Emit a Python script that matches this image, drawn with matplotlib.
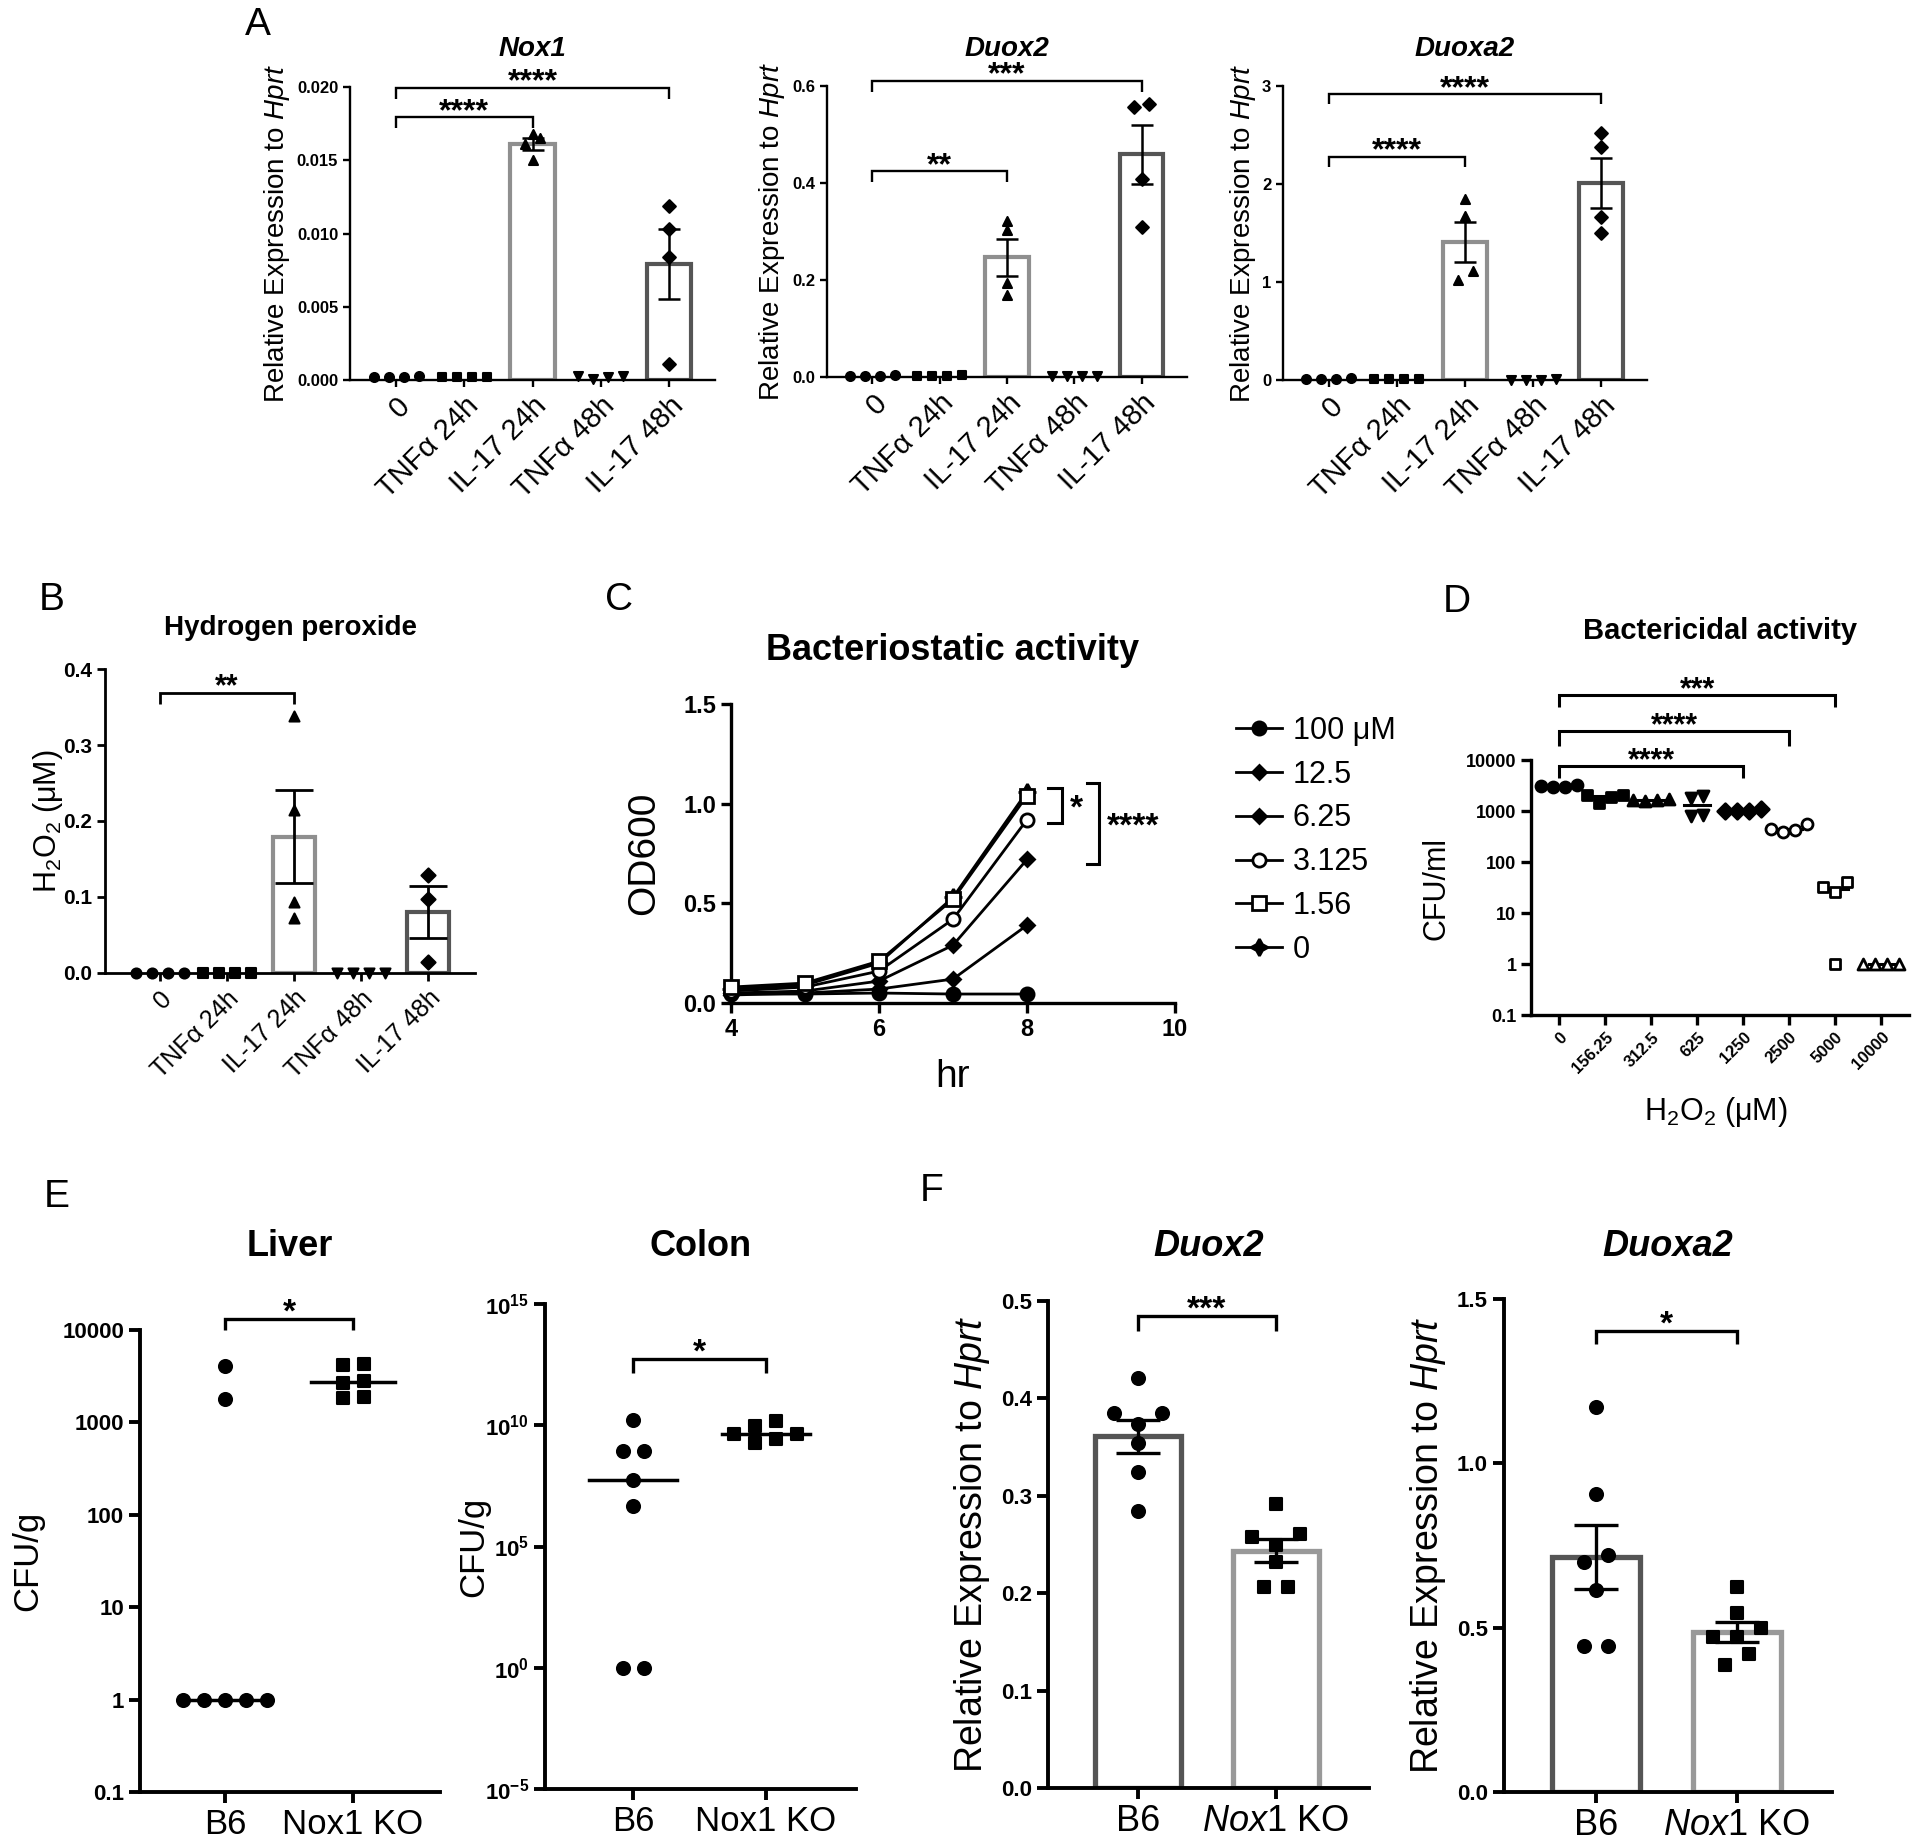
import numpy as np
import matplotlib
matplotlib.use('Agg')
import matplotlib.pyplot as plt
from matplotlib.ticker import NullLocator

# ---------------- data ----------------
# A: relative expression to Hprt, 4 replicates per condition
a_groups = ['0', 'TNFα 24h', 'IL-17 24h', 'TNFα 48h', 'IL-17 48h']
nox1 = [[0.0002, 0.0003, 0.0002, 0.0002],
        [0.0002, 0.0002, 0.0002, 0.0002],
        [0.0165, 0.0168, 0.0161, 0.0150],
        [0.0001, 0.0003, 0.0002, 0.0003],
        [0.0119, 0.0103, 0.0084, 0.0011]]
duox2 = [[0.002, 0.004, 0.002, 0.002],
         [0.003, 0.004, 0.003, 0.002],
         [0.322, 0.303, 0.193, 0.169],
         [0.002, 0.003, 0.002, 0.002],
         [0.556, 0.562, 0.408, 0.310]]
duoxa2 = [[0.01, 0.02, 0.01, 0.01],
          [0.01, 0.01, 0.01, 0.01],
          [1.85, 1.67, 1.11, 1.02],
          [0.005, 0.006, 0.004, 0.005],
          [2.52, 2.38, 1.66, 1.50]]

# B: hydrogen peroxide (uM)
h2o2 = [[0, 0, 0, 0],
        [0, 0, 0, 0],
        [0.338, 0.215, 0.093, 0.072],
        [0, 0, 0, 0],
        [0.129, 0.097, 0.0145]]

# C: growth curves, OD600 per hour
hours = [4, 5, 6, 7, 8]
c_labels = ['100 μM', '12.5', '6.25', '3.125', '1.56', '0']
od_100 = [0.045, 0.045, 0.05, 0.045, 0.045]
od_12_5 = [0.04, 0.05, 0.07, 0.12, 0.39]
od_6_25 = [0.05, 0.06, 0.11, 0.29, 0.72]
od_3_125 = [0.06, 0.08, 0.16, 0.42, 0.92]
od_1_56 = [0.08, 0.10, 0.21, 0.52, 1.04]
od_0 = [0.07, 0.09, 0.20, 0.53, 1.06]

# D: CFU/ml after H2O2
d_doses = ['0', '156.25', '312.5', '625', '1250', '2500', '5000', '10000']
cfu_ml = [[2900, 3200, 3000, 3100],
          [1450, 2100, 1900, 2050],
          [1600, 1750, 1650, 1650],
          [1800, 800, 850, 2000],
          [1000, 1100, 1000, 1000],
          [380, 560, 420, 450],
          [40, 26, 33, 1],
          [1, 1, 1, 1]]

# E: CFU/g in tissue
liver_b6 = [4100, 1800, 1, 1, 1, 1, 1]
liver_ko = [4300, 4200, 2800, 2700, 1900, 1850]
colon_b6 = [1.7e10, 9e8, 9e8, 5.6e7, 4.6e6, 1, 1]
colon_ko = [2.7e9, 8.9e9, 4.2e9, 1.9e9, 1.5e10, 4.2e9]

# F: colon expression, B6 vs Nox1 KO
f_duox2_b6 = [0.421, 0.385, 0.385, 0.374, 0.354, 0.324, 0.284]
f_duox2_ko = [0.292, 0.258, 0.261, 0.250, 0.232, 0.206, 0.206]
f_duoxa2_b6 = [1.171, 0.907, 0.720, 0.700, 0.615, 0.443, 0.443]
f_duoxa2_ko = [0.624, 0.546, 0.498, 0.471, 0.471, 0.419, 0.386]

# ---------------- style ----------------
plt.rcParams['font.family'] = ['Liberation Sans', 'DejaVu Sans']
plt.rcParams['mathtext.fontset'] = 'custom'
plt.rcParams['mathtext.rm'] = 'Liberation Sans'
plt.rcParams['mathtext.it'] = 'Liberation Sans:italic'
plt.rcParams['mathtext.bf'] = 'Liberation Sans:bold'
NARROW = ['Liberation Sans Narrow', 'Liberation Sans']
DARK, LIGHT = '#555555', '#8f8f8f'

W, H = 1920, 1847
fig = plt.figure(figsize=(W / 100, H / 100), dpi=100)


def axes_px(x0, y0, x1, y1, lw=2.0, tick=6):
    ax = fig.add_axes([x0 / W, 1 - y1 / H, (x1 - x0) / W, (y1 - y0) / H])
    ax.patch.set_alpha(0)
    ax.spines[['top', 'right']].set_visible(False)
    ax.spines[['left', 'bottom']].set_linewidth(lw)
    ax.tick_params(width=lw, length=tick, color='k')
    return ax


def ftext(x, y, s, **kw):
    kw.setdefault('ha', 'center')
    kw.setdefault('va', 'center')
    fig.text(x / W, 1 - y / H, s, **kw)


def row_offsets(ax, vals, d, gap, log=False):
    # points that overlap vertically are spread side by side (GraphPad style)
    pos = ax.get_position()
    hpx, wpx = pos.height * H, pos.width * W
    lo, hi = ax.get_ylim()
    v = np.asarray(vals, float)
    if log:
        ypx = (np.log10(v) - np.log10(lo)) / (np.log10(hi) - np.log10(lo)) * hpx
    else:
        ypx = (v - lo) / (hi - lo) * hpx
    order = np.argsort(ypx, kind='stable')
    offs = np.zeros(len(v))
    i = 0
    while i < len(order):
        j = i
        while j + 1 < len(order) and ypx[order[j + 1]] - ypx[order[i]] < d:
            j += 1
        row = order[i:j + 1]
        n = len(row)
        slots = sorted([k - (n - 1) / 2 for k in range(n)], key=lambda s: (abs(s), s))
        for idx, s in zip(row, slots):
            offs[idx] = s * gap
        i = j + 1
    x0, x1 = ax.get_xlim()
    return offs * (x1 - x0) / wpx


def dots(ax, x, vals, marker, d, gap, filled=True, log=False, mlw=1.5):
    offs = row_offsets(ax, vals, d, gap, log)
    ms = d / 1.389
    ax.scatter(x + offs, vals, s=ms ** 2, marker=marker, c='k' if filled else 'white',
               edgecolors='k', linewidths=mlw, zorder=3, clip_on=False)


def mean_bar(ax, x, vals, edge, width, lw, cap, elw):
    m = np.mean(vals)
    se = np.std(vals, ddof=1) / np.sqrt(len(vals))
    ax.bar(x, m, width=width, facecolor='white', edgecolor=edge, linewidth=lw, zorder=1)
    ax.errorbar(x, m, yerr=se, fmt='none', ecolor='k', elinewidth=elw,
                capsize=cap, capthick=elw, zorder=4)


def bracket(ax, x1, x2, y, ydrop, label, fs=22, lw=2.0, pad=-2):
    ax.plot([x1, x1, x2, x2], [ydrop, y, y, ydrop], color='k', lw=lw, clip_on=False,
            solid_joinstyle='miter', solid_capstyle='butt')
    ax.annotate(label, ((x1 + x2) / 2, y), xytext=(0, pad), textcoords='offset points',
                ha='center', va='baseline', fontsize=fs, fontweight='bold',
                annotation_clip=False)


def median_line(ax, x, vals, half=0.33, lw=2.5):
    m = np.median(vals)
    ax.plot([x - half, x + half], [m, m], color='k', lw=lw, zorder=2, clip_on=False)


# ---------------- panel letters ----------------
for letter, x, y in [('A', 258, 25), ('B', 52, 600), ('C', 619, 600),
                     ('D', 1457, 602), ('E', 57, 1197), ('F', 932, 1191)]:
    ftext(x, y, letter, fontsize=28)

# ---------------- A ----------------
a_markers = ['o', 's', '^', 'v', 'D']
a_edges = [DARK, DARK, LIGHT, DARK, DARK]
a_sets = [(nox1, 'Nox1', (350, 87, 715, 380), 0.02, [0, 0.005, 0.01, 0.015, 0.02], '{:.3f}', 277),
          (duox2, 'Duox2', (827, 86, 1187, 377), 0.6, [0, 0.2, 0.4, 0.6], '{:.1f}', 772),
          (duoxa2, 'Duoxa2', (1283, 86, 1647, 380), 3, [0, 1, 2, 3], '{:.0f}', 1243)]
a_brackets = {'Nox1': [(0, 2, 0.01795, 0.0172, '****'), (0, 4, 0.01995, 0.0192, '****')],
              'Duox2': [(0, 2, 0.4246, 0.4026, '**'), (0, 4, 0.6104, 0.5884, '***')],
              'Duoxa2': [(0, 2, 2.279, 2.177, '****'), (0, 4, 2.915, 2.816, '****')]}

for data, gene, box, top, ticks, fmt, ylab_x in a_sets:
    ax = axes_px(*box, lw=1.7, tick=5)
    ax.set_xlim(-0.675, 4.675)
    ax.set_ylim(0, top)
    for i, vals in enumerate(data):
        if np.mean(vals) > 0.03 * top:
            mean_bar(ax, i, vals, a_edges[i], 0.65, 3.0, 8, 1.8)
        dots(ax, i, vals, a_markers[i], 9, 15)
    ax.set_yticks(ticks, [fmt.format(t) for t in ticks], fontsize=12, fontweight='bold')
    ax.set_xticks(range(5), a_groups, rotation=45, ha='right', rotation_mode='anchor', fontsize=21)
    for b in a_brackets[gene]:
        bracket(ax, *b, fs=23, lw=1.7)
    ftext((box[0] + box[2]) / 2, 49, gene, fontsize=20, fontweight='bold', style='italic')
    ftext(ylab_x, (box[1] + box[3]) / 2, 'Relative Expression to $\\mathit{Hprt}$',
          fontsize=20, rotation=90)

# ---------------- B ----------------
ax = axes_px(105, 669, 475, 973, lw=2.0, tick=6)
ax.set_xlim(-0.817, 4.70)
ax.set_ylim(0, 0.4)
for i, vals in enumerate(h2o2):
    if np.mean(vals) > 0.01:
        mean_bar(ax, i, vals, a_edges[i], 0.62, 3.0, 14, 2.0)
    dots(ax, i, vals, a_markers[i], 10, 16)
b_ticks = [0, 0.1, 0.2, 0.3, 0.4]
ax.set_yticks(b_ticks, ['{:.1f}'.format(t) for t in b_ticks], fontsize=15,
              fontweight='bold', family=NARROW)
ax.set_xticks(range(5), a_groups, rotation=45, ha='right', rotation_mode='anchor',
              fontsize=18, family=NARROW)
bracket(ax, 0, 2, 0.369, 0.354, '**', fs=22, lw=2.0)
ftext(290, 628, 'Hydrogen peroxide', fontsize=20, fontweight='bold')
ftext(48, 821, 'H$_2$O$_2$ (μM)', fontsize=22, rotation=90)

# ---------------- C ----------------
ax = axes_px(731, 704, 1175, 1003, lw=2.4, tick=7)
ax.set_xlim(4, 10)
ax.set_ylim(0, 1.5)
c_series = [od_100, od_12_5, od_6_25, od_3_125, od_1_56, od_0]
c_styles = [('o', 'k', 9.5), ('D', 'k', 7.5), ('D', 'k', 7.5), ('o', 'white', 9.5),
            ('s', 'white', 9.5), ((4, 1, 0), 'k', 12)]
handles = []
for i, (vals, (mk, fc, ms)) in enumerate(zip(c_series, c_styles)):
    h, = ax.plot(hours, vals, color='k', lw=2.0, marker=mk, ms=ms, mfc=fc, mec='k',
                 mew=2.0, zorder=2 if i == 5 else 3, clip_on=False)
    handles.append(h)
ax.set_yticks([0, 0.5, 1.0, 1.5], ['0.0', '0.5', '1.0', '1.5'], fontsize=17,
              fontweight='bold', family=NARROW)
ax.set_xticks([4, 6, 8, 10], ['4', '6', '8', '10'], fontsize=17, fontweight='bold',
              family=NARROW)
# vertical significance brackets to the right of the curves
for xb, xl, y1, y2, lab, ylab in [(8.47, 8.28, 1.077, 0.901, '*', 0.975),
                                  (8.97, 8.81, 1.106, 0.696, '****', 0.885)]:
    ax.plot([xl, xb, xb, xl], [y1, y1, y2, y2], color='k', lw=2.2, clip_on=False,
            solid_joinstyle='miter')
    ax.annotate(lab, (xb, ylab), xytext=(6, 0), textcoords='offset points', ha='left',
                va='center', fontsize=24, fontweight='bold', annotation_clip=False)
ax.legend(handles, c_labels, loc='upper left', bbox_to_anchor=(1236 / W, 1 - 716 / H),
          bbox_transform=fig.transFigure, frameon=False, fontsize=22, handlelength=1.5,
          handletextpad=0.35, labelspacing=0.45, borderpad=0, borderaxespad=0)
ftext(953, 650, 'Bacteriostatic activity', fontsize=26, fontweight='bold')
ftext(644, 853, 'OD600', fontsize=28, rotation=90)
ftext(953, 1077, 'hr', fontsize=28)

# ---------------- D ----------------
ax = axes_px(1531, 760, 1909, 1015, lw=2.4, tick=7)
ax.set_yscale('log')
ax.set_ylim(0.1, 10000)
ax.set_xlim(-0.615, 7.6)
ax.yaxis.set_minor_locator(NullLocator())
d_styles = [('o', True), ('s', True), ('^', True), ('v', True), ('D', True),
            ('o', False), ('s', False), ('^', False)]
for i, vals in enumerate(cfu_ml):
    median_line(ax, i, vals, half=0.28, lw=2.2)
    mk, filled = d_styles[i]
    dots(ax, i, vals, mk, 11, 12, filled=filled, log=True, mlw=2.0)
d_ticks = [0.1, 1, 10, 100, 1000, 10000]
ax.set_yticks(d_ticks, ['0.1', '1', '10', '100', '1000', '10000'], fontsize=13,
              fontweight='bold')
ax.set_xticks(range(8), d_doses, rotation=45, ha='right', rotation_mode='anchor',
              fontsize=12, fontweight='bold')
for b in [(0, 4, 7600, 4450, '****'), (0, 5, 36500, 18600, '****'),
          (0, 6, 186000, 110000, '***')]:
    bracket(ax, *b, fs=22, lw=2.2)
ftext(1720, 631, 'Bactericidal activity', fontsize=21, fontweight='bold')
ftext(1437, 888, 'CFU/ml', fontsize=22, rotation=90)
ftext(1716, 1112, 'H$_2$O$_2$ (μM)', fontsize=22)

# ---------------- E ----------------
e_sets = [(liver_b6, liver_ko, (140, 1330, 440, 1792), (0.1, 1e4),
           [0.1, 1, 10, 100, 1000, 10000], ['0.1', '1', '10', '100', '1000', '10000'],
           'Liver', 28, (0, 1, 13240, 10000, '*')),
          (colon_b6, colon_ko, (545, 1304, 856, 1789), (1e-5, 1e15),
           [1e-5, 1, 1e5, 1e10, 1e15],
           ['$\\mathbf{10^{-5}}$', '$\\mathbf{10^{0}}$', '$\\mathbf{10^{5}}$',
            '$\\mathbf{10^{10}}$', '$\\mathbf{10^{15}}$'],
           'Colon', 474, (0, 1, 5.5e12, 1.38e12, '*'))]
for b6, ko, box, lims, ticks, labels, title, ylab_x, brk in e_sets:
    ax = axes_px(*box, lw=2.8, tick=8)
    ax.set_yscale('log')
    ax.set_ylim(*lims)
    ax.set_xlim(-0.665, 1.68)
    ax.yaxis.set_minor_locator(NullLocator())
    for i, (vals, mk) in enumerate([(b6, 'o'), (ko, 's')]):
        median_line(ax, i, vals)
        dots(ax, i, vals, mk, 13, 21, log=True)
    ax.set_yticks(ticks, labels, fontsize=16, fontweight='bold')
    ax.set_xticks([0, 1], ['B6', 'Nox1 KO'], fontsize=25)
    bracket(ax, *brk, fs=24, lw=2.4)
    ftext((box[0] + box[2]) / 2, 1246, title, fontsize=26, fontweight='bold')
    ftext(ylab_x, (box[1] + box[3]) / 2, 'CFU/g', fontsize=25, rotation=90)

# ---------------- F ----------------
f_sets = [(f_duox2_b6, f_duox2_ko, (1048, 1301, 1369, 1788), 0.5,
           [0, 0.1, 0.2, 0.3, 0.4, 0.5], 'Duox2', 972, (0, 1, 0.485, 0.469, '***')),
          (f_duoxa2_b6, f_duoxa2_ko, (1504, 1299, 1832, 1792), 1.5,
           [0, 0.5, 1.0, 1.5], 'Duoxa2', 1428, (0, 1, 1.404, 1.363, '*'))]
for b6, ko, box, top, ticks, gene, ylab_x, brk in f_sets:
    ax = axes_px(*box, lw=2.8, tick=8)
    ax.set_xlim(-0.651, 1.675)
    ax.set_ylim(0, top)
    for i, (vals, mk, edge) in enumerate([(b6, 'o', DARK), (ko, 's', '#999999')]):
        mean_bar(ax, i, vals, edge, 0.62, 3.8, 16, 2.4)
        dots(ax, i, vals, mk, 13, 24)
    ax.set_yticks(ticks, ['{:.1f}'.format(t) for t in ticks], fontsize=16, fontweight='bold')
    ax.set_xticks([0, 1], ['B6', '$\\mathit{Nox1}$ KO'], fontsize=26)
    bracket(ax, *brk, fs=24, lw=2.4)
    ftext((box[0] + box[2]) / 2, 1246, gene, fontsize=26, fontweight='bold', style='italic')
    ftext(ylab_x, (box[1] + box[3]) / 2, 'Relative Expression to $\\mathit{Hprt}$',
          fontsize=27, rotation=90)

fig.savefig('out.png', dpi=100)
